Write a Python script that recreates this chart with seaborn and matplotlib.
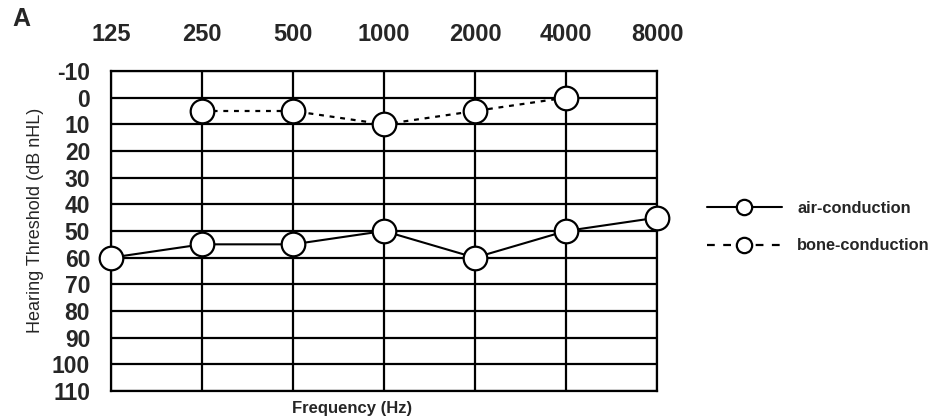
import matplotlib
matplotlib.use("Agg")
import matplotlib.pyplot as plt
import seaborn as sns
import pandas as pd

# Audiogram data (dB nHL) at standard test frequencies
frequencies = ["125", "250", "500", "1000", "2000", "4000", "8000"]
air_freqs = ["125", "250", "500", "1000", "2000", "4000", "8000"]
air_thresholds = [60, 55, 55, 50, 60, 50, 45]
bone_freqs = ["250", "500", "1000", "2000", "4000"]
bone_thresholds = [5, 5, 10, 5, 0]
y_ticks = [-10, 0, 10, 20, 30, 40, 50, 60, 70, 80, 90, 100, 110]

sns.set_style("white")
plt.rcParams["font.family"] = ["Liberation Sans", "DejaVu Sans"]

pos = {f: i for i, f in enumerate(frequencies)}
air = pd.DataFrame({"x": [pos[f] for f in air_freqs], "y": air_thresholds})
bone = pd.DataFrame({"x": [pos[f] for f in bone_freqs], "y": bone_thresholds})

fig = plt.figure(figsize=(9.30, 4.18), dpi=100)
ax = fig.add_axes([111 / 930, 1 - 391 / 418, (657 - 111) / 930, (391 - 71) / 418])

marker_kw = dict(marker="o", markersize=17, markerfacecolor="white",
                 markeredgecolor="black", markeredgewidth=1.6, color="black",
                 clip_on=False, zorder=5)

sns.lineplot(data=air, x="x", y="y", ax=ax, linewidth=1.5, linestyle="-",
             label="air-conduction", **marker_kw)
sns.lineplot(data=bone, x="x", y="y", ax=ax, linewidth=1.6,
             linestyle=(0, (2.2, 2.6)), label="bone-conduction", **marker_kw)

ax.set_xlim(0, len(frequencies) - 1)
ax.set_ylim(110, -10)
ax.set_xticks(range(len(frequencies)))
ax.set_xticklabels(frequencies)
ax.set_yticks(y_ticks)
ax.set_yticklabels([str(v) for v in y_ticks])

ax.xaxis.tick_top()
ax.tick_params(axis="x", length=0, pad=18, labelsize=17)
ax.tick_params(axis="y", length=0, pad=15, labelsize=16.5)
for lab in ax.get_xticklabels() + ax.get_yticklabels():
    lab.set_fontweight("bold")

ax.grid(True, color="black", linewidth=1.6)
ax.set_axisbelow(True)
for sp in ax.spines.values():
    sp.set_visible(True)
    sp.set_color("black")
    sp.set_linewidth(1.6)

ax.set_xlabel("")
ax.set_ylabel("")
fig.text(352 / 930, 1 - 408 / 418, "Frequency (Hz)", ha="center", va="center",
         fontsize=12, fontweight="bold")
fig.text(35 / 930, 1 - 220 / 418, "Hearing Threshold (dB nHL)", ha="center",
         va="center", rotation=90, fontsize=13)
fig.text(12 / 930, 1 - 19 / 418, "A", ha="left", va="center",
         fontsize=18, fontweight="bold")

ax.get_legend().remove()
handles, labels = ax.get_legend_handles_labels()
leg = fig.legend(handles, labels, loc="center left",
                 bbox_to_anchor=(692 / 930, 1 - 227 / 418),
                 frameon=False, handlelength=4.6, handletextpad=0.95,
                 labelspacing=1.4, markerscale=0.65,
                 prop={"size": 11.75, "weight": "bold"})
# longer dashes in the legend key
leg.get_lines()[1].set_linestyle((0, (3.5, 3.8)))

fig.savefig("out.png", dpi=100)
